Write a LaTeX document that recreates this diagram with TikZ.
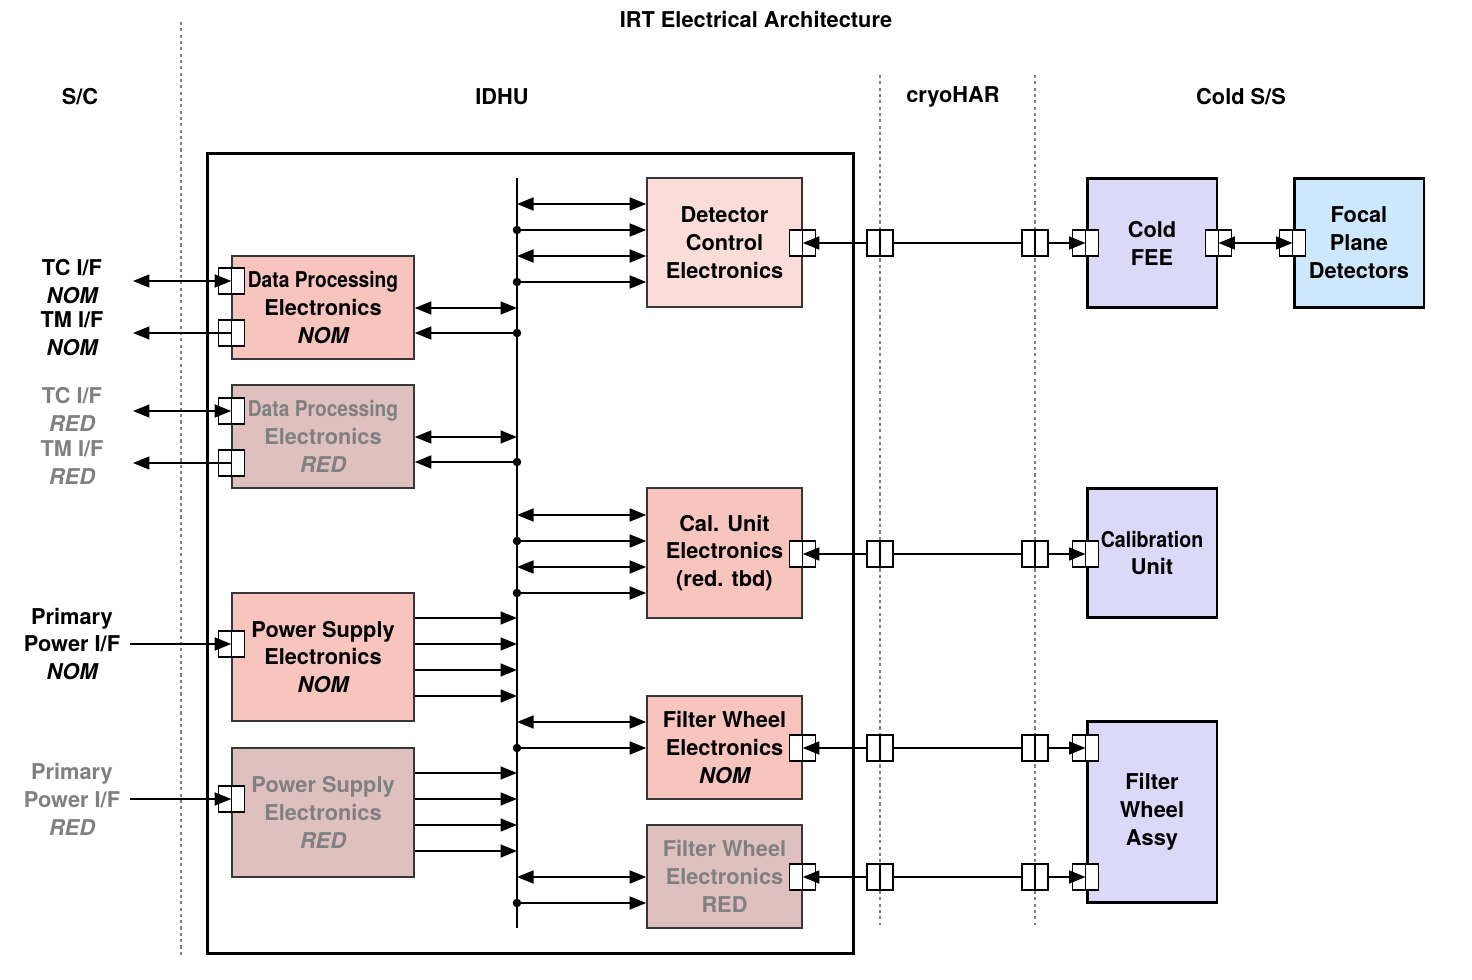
\documentclass[tikz,border=0pt]{standalone}
\usepackage{fontspec}
\usepackage{graphicx}
\setmainfont{TeX Gyre Heros}
\usetikzlibrary{arrows.meta,calc}
\definecolor{nomfill}{RGB}{247,196,190}
\definecolor{dcefill}{RGB}{250,220,216}
\definecolor{redfill}{RGB}{222,192,190}
\definecolor{redtxt}{RGB}{128,128,128}
\definecolor{lavfill}{RGB}{220,216,248}
\definecolor{bluefill}{RGB}{205,231,253}
\definecolor{edge}{RGB}{55,55,55}
\begin{document}
\begin{tikzpicture}[x=0.02cm,y=-0.02cm,
  font=\bfseries\fontsize{12.4}{15.9}\selectfont,
  blk/.style={draw=edge, line width=0.9pt, align=center, inner sep=0pt},
  nomblk/.style={blk, fill=nomfill},
  redblk/.style={blk, fill=redfill, text=redtxt},
  ssblk/.style={draw=black, line width=1.7pt, align=center, inner sep=0pt},
  port/.style={draw=black, fill=white, line width=0.8pt, inner sep=0pt,
    minimum width=0.52cm, minimum height=0.52cm,
    path picture={\draw[line width=0.8pt] (path picture bounding box.north) -- (path picture bounding box.south);}},
  conn/.style={line width=0.9pt},
  arr/.style={conn, -{Triangle[length=0.33cm,width=0.26cm]}},
  dbl/.style={conn, {Triangle[length=0.33cm,width=0.26cm]}-{Triangle[length=0.33cm,width=0.26cm]}},
  sep/.style={draw=redtxt, line width=0.6pt, dash pattern=on 1.8pt off 1.8pt},
  lbl/.style={align=center, inner sep=0pt},
  dot/.style={fill=black}
]
\useasboundingbox (0,0) rectangle (1472,980);

% separators
\coordinate (s1t) at (181,22); \coordinate (s1b) at (181,955);
\coordinate (s2t) at (880,75); \coordinate (s2b) at (880,925);
\coordinate (s3t) at (1035,75); \coordinate (s3b) at (1035,925);
\draw[sep] (s1t) -- (s1b);
\draw[sep] (s2t) -- (s2b);
\draw[sep] (s3t) -- (s3b);

% headings
\node[lbl] (title) at (756,19) {IRT Electrical Architecture};
\node[lbl] (hsc) at (80,97) {S/C};
\node[lbl] (hidhu) at (502,97) {IDHU};
\node[lbl] (hcryo) at (953,97) {cryoHAR};
\node[lbl] (hcold) at (1241,97) {Cold S/S};

% IDHU container
\node[draw=black, line width=1.7pt, minimum width=12.94cm, minimum height=16.02cm, inner sep=0pt] (idhu) at (530.5,553.5) {};

% IDHU blocks
\node[nomblk, minimum width=3.64cm, minimum height=2.06cm] (dpen) at (323,307.5)
  {\scalebox{0.88}[1]{Data Processing}\\Electronics\\\itshape NOM};
\node[redblk, minimum width=3.64cm, minimum height=2.06cm] (dper) at (323,436.5)
  {\scalebox{0.88}[1]{Data Processing}\\Electronics\\\itshape RED};
\node[nomblk, minimum width=3.64cm, minimum height=2.56cm] (psen) at (323,657)
  {Power Supply\\Electronics\\\itshape NOM};
\node[redblk, minimum width=3.64cm, minimum height=2.58cm] (pser) at (323,812.5)
  {Power Supply\\Electronics\\\itshape RED};
\node[blk, fill=dcefill, minimum width=3.1cm, minimum height=2.58cm] (dce) at (724.5,242.5)
  {Detector\\Control\\Electronics};
\node[nomblk, minimum width=3.1cm, minimum height=2.6cm] (cal) at (724.5,553)
  {Cal. Unit\\Electronics\\(red. tbd)};
\node[nomblk, minimum width=3.1cm, minimum height=2.06cm] (fwn) at (724.5,747.5)
  {Filter Wheel\\Electronics\\\itshape NOM};
\node[redblk, minimum width=3.1cm, minimum height=2.06cm] (fwr) at (724.5,876.5)
  {Filter Wheel\\Electronics\\RED};

% Cold S/S blocks
\node[ssblk, fill=lavfill, minimum width=2.6cm, minimum height=2.6cm] (cfee) at (1152,243) {Cold\\FEE};
\node[ssblk, fill=bluefill, minimum width=2.6cm, minimum height=2.6cm] (fpd) at (1359,243) {Focal\\Plane\\Detectors};
\node[ssblk, fill=lavfill, minimum width=2.6cm, minimum height=2.6cm] (cu) at (1152,553) {\scalebox{0.9}[1]{Calibration}\\Unit};
\node[ssblk, fill=lavfill, minimum width=2.6cm, minimum height=3.64cm] (fwa) at (1152,812) {Filter\\Wheel\\Assy};

% bus
\coordinate (busT) at (517,178);
\coordinate (busB) at (517,928);
\draw[conn] (busT) -- (busB);

% S/C labels
\node[lbl] (tcn) at (72,282) {TC I/F\\\itshape NOM};
\node[lbl] (tmn) at (72,334) {TM I/F\\\itshape NOM};
\node[lbl, text=redtxt] (tcr) at (72,409.5) {TC I/F\\\itshape RED};
\node[lbl, text=redtxt] (tmr) at (72,463) {TM I/F\\\itshape RED};
\node[lbl] (ppwn) at (72,644) {Primary\\Power I/F\\\itshape NOM};
\node[lbl, text=redtxt] (ppwr) at (72,799) {Primary\\Power I/F\\\itshape RED};
\coordinate (tcnE) at (133,281);
\coordinate (tmnE) at (133,333);
\coordinate (tcrE) at (133,411);
\coordinate (tmrE) at (133,463);
\coordinate (ppnE) at (130,644);
\coordinate (pprE) at (130,799);

% ports
\node[port] (pdn1) at (dpen.west |- tcnE) {};
\node[port] (pdn2) at (dpen.west |- tmnE) {};
\node[port] (pdr1) at (dper.west |- tcrE) {};
\node[port] (pdr2) at (dper.west |- tmrE) {};
\node[port] (ppn) at (psen.west |- ppnE) {};
\node[port] (ppr) at (pser.west |- pprE) {};
\node[port] (pdce) at (dce.east |- 0,243) {};
\node[port] (pcal) at (cal.east |- 0,554) {};
\node[port] (pfwn) at (fwn.east |- 0,748) {};
\node[port] (pfwr) at (fwr.east |- 0,877) {};
\node[port] (ca1) at (880,243) {};
\node[port] (cb1) at (1035,243) {};
\node[port] (ca2) at (880,554) {};
\node[port] (cb2) at (1035,554) {};
\node[port] (ca3) at (880,748) {};
\node[port] (cb3) at (1035,748) {};
\node[port] (ca4) at (880,877) {};
\node[port] (cb4) at (1035,877) {};
\node[port] (pcfl) at (cfee.west |- 0,243) {};
\node[port] (pcfr) at (cfee.east |- 0,243) {};
\node[port] (pfpd) at (fpd.west |- 0,243) {};
\node[port] (pcu) at (cu.west |- 0,554) {};
\node[port] (pfa1) at (fwa.west |- 0,748) {};
\node[port] (pfa2) at (fwa.west |- 0,877) {};

% S/C interfaces
\draw[dbl] (tcnE) -- (pdn1.center);
\draw[arr] (pdn2.center) -- (tmnE);
\draw[dbl] (tcrE) -- (pdr1.center);
\draw[arr] (pdr2.center) -- (tmrE);
\draw[arr] (ppnE) -- (ppn.center);
\draw[arr] (pprE) -- (ppr.center);

% DPE to bus
\draw[dbl] (dpen.east |- 0,308) -- (busT |- 0,308);
\draw[arr] (busT |- 0,333) -- (dpen.east |- 0,333);
\draw[dbl] (dper.east |- 0,437) -- (busT |- 0,437);
\draw[arr] (busT |- 0,462) -- (dper.east |- 0,462);

% PSE to bus
\foreach \yy in {618,644,670,696} {\draw[arr] (psen.east |- 0,\yy) -- (busT |- 0,\yy);}
\foreach \yy in {773,799,825,851} {\draw[arr] (pser.east |- 0,\yy) -- (busT |- 0,\yy);}

% bus to DCE
\draw[dbl] (busT |- 0,204) -- (dce.west |- 0,204);
\draw[arr] (busT |- 0,230) -- (dce.west |- 0,230);
\draw[dbl] (busT |- 0,256) -- (dce.west |- 0,256);
\draw[arr] (busT |- 0,282) -- (dce.west |- 0,282);
% bus to Cal
\draw[dbl] (busT |- 0,515) -- (cal.west |- 0,515);
\draw[arr] (busT |- 0,541) -- (cal.west |- 0,541);
\draw[dbl] (busT |- 0,567) -- (cal.west |- 0,567);
\draw[arr] (busT |- 0,593) -- (cal.west |- 0,593);
% bus to FW
\draw[dbl] (busT |- 0,722) -- (fwn.west |- 0,722);
\draw[arr] (busT |- 0,748) -- (fwn.west |- 0,748);
\draw[dbl] (busT |- 0,877) -- (fwr.west |- 0,877);
\draw[arr] (busT |- 0,903) -- (fwr.west |- 0,903);

% bus dots
\foreach \yy in {230,282,333,462,541,593,748,903} {\fill[dot] (busT |- 0,\yy) circle (0.085cm);}

% harness
\draw[arr] (ca1.west) -- (pdce.center);
\draw[conn] (ca1.east) -- (cb1.west);
\draw[arr] (cb1.east) -- (pcfl.center);
\draw[dbl] (pcfr.center) -- (pfpd.center);

\draw[arr] (ca2.west) -- (pcal.center);
\draw[conn] (ca2.east) -- (cb2.west);
\draw[arr] (cb2.east) -- (pcu.center);

\draw[arr] (ca3.west) -- (pfwn.center);
\draw[conn] (ca3.east) -- (cb3.west);
\draw[arr] (cb3.east) -- (pfa1.center);

\draw[arr] (ca4.west) -- (pfwr.center);
\draw[conn] (ca4.east) -- (cb4.west);
\draw[arr] (cb4.east) -- (pfa2.center);
\end{tikzpicture}
\end{document}
